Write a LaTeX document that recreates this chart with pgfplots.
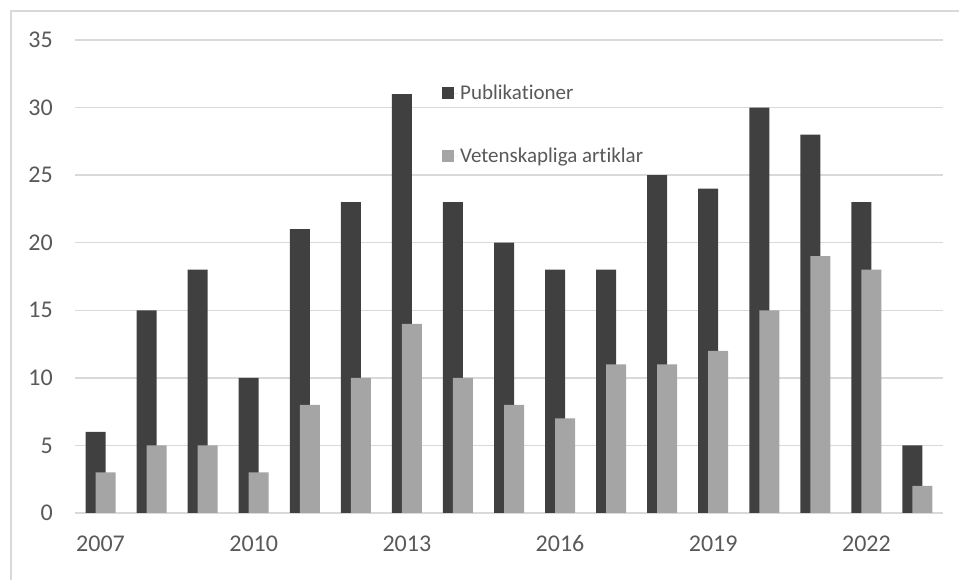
\documentclass[border=0pt]{standalone}
\usepackage{pgfplots}
\pgfplotsset{compat=1.18}
\usepackage{fontspec}
\setmainfont{Carlito}[Numbers=Lining, Ligatures={TeX,NoCommon}]
\definecolor{darkbar}{HTML}{404040}
\definecolor{lightbar}{HTML}{A5A5A5}
\definecolor{gridc}{HTML}{D9D9D9}
\definecolor{txt}{HTML}{595959}
\begin{document}
\begin{tikzpicture}
\useasboundingbox (0,0) rectangle (959bp,580bp);
\draw[gridc, line width=2bp] (11bp,0bp) -- (11bp,569bp) -- (959bp,569bp);
\begin{axis}[
  scale only axis,
  width=868bp, height=473bp,
  at={(75bp,67bp)}, anchor=south west,
  xmin=-0.5, xmax=16.5,
  ymin=0, ymax=35,
  ytick={0,5,...,35},
  xtick={0,3,6,9,12,15},
  xticklabels={2007,2010,2013,2016,2019,2022},
  ymajorgrids,
  grid style={gridc, line width=1.5bp},
  axis line style={draw=none},
  major tick length=0pt,
  /pgf/number format/assume math mode=true,
  tick label style={font=\fontsize{24bp}{28bp}\selectfont, text=txt},
  yticklabel style={inner sep=0pt, anchor=east, xshift=-22bp},
  xticklabel style={inner sep=0pt, anchor=base, yshift=-39bp},
  ybar, bar width=20bp,
  legend style={draw=none, fill=none, inner sep=0pt, at={(0.4228,0.909)}, anchor=north west,
    font=\fontsize{21bp}{24bp}\selectfont, text=txt, row sep=43bp,
    cells={anchor=west}},
  legend image code/.code={\fill[#1] (0bp,-6bp) rectangle (12bp,6bp); \path (0bp,0bp) -- (16bp,0bp);},
]
\addplot[fill=darkbar, draw=none, bar shift=-5bp] coordinates {
(0,6) (1,15) (2,18) (3,10) (4,21) (5,23) (6,31) (7,23) (8,20) (9,18) (10,18) (11,25) (12,24) (13,30) (14,28) (15,23) (16,5)};
\addplot[fill=lightbar, draw=none, bar shift=5bp] coordinates {
(0,3) (1,5) (2,5) (3,3) (4,8) (5,10) (6,14) (7,10) (8,8) (9,7) (10,11) (11,11) (12,12) (13,15) (14,19) (15,18) (16,2)};
\legend{Publikationer, Vetenskapliga artiklar}
\end{axis}
\end{tikzpicture}
\end{document}
